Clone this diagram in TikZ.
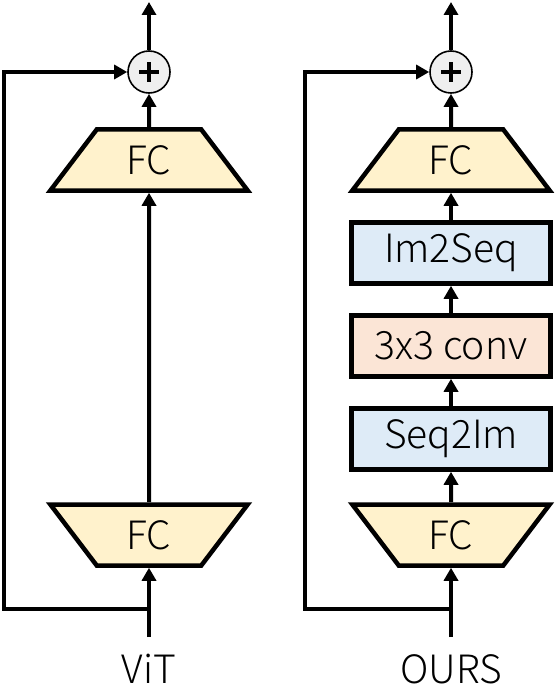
\documentclass[tikz,border=0pt]{standalone}
\usepackage{fontspec}
\setmainfont{Noto Sans CJK SC}[UprightFont=* Light]
\usetikzlibrary{arrows.meta,shapes.geometric}
\definecolor{fcfill}{HTML}{FFF2CC}
\definecolor{seqfill}{HTML}{DEEBF7}
\definecolor{convfill}{HTML}{FBE5D6}
\definecolor{addfill}{HTML}{EFEFEF}
\tikzset{
  arr/.style={line width=4pt, -{Triangle[length=13pt,width=14pt]}},
  skiparr/.style={line width=3.2pt, -{Triangle[length=13pt,width=14pt]}},
  fcbox/.style={trapezium, trapezium stretches, trapezium angle=56, draw, line width=4.5pt,
    fill=fcfill, minimum width=198pt, minimum height=61pt, inner sep=0pt},
  layerbox/.style={rectangle, draw, line width=4.5pt, minimum width=199pt, minimum height=61pt, inner sep=0pt},
  addnode/.style={circle, draw, line width=1.6pt, fill=addfill, minimum size=42pt, inner sep=0pt,
    path picture={\draw[line width=4.5pt]
      ([xshift=-10pt]path picture bounding box.center) -- ([xshift=10pt]path picture bounding box.center)
      ([yshift=-10pt]path picture bounding box.center) -- ([yshift=10pt]path picture bounding box.center);}}
}
\begin{document}
\begin{tikzpicture}[x=1pt, y=-1pt, every node/.style={font=\fontsize{39}{42}\selectfont}]
  \useasboundingbox (0,0) rectangle (554,687);

  % ViT
  \node[addnode] (addA) at (149,72) {};
  \node[fcbox] (fcA1) at (149,160) {FC};
  \node[fcbox, shape border rotate=180] (fcA0) at (149,535) {FC};
  \coordinate (outA) at (149,2);
  \coordinate (inA) at (149,637);
  \coordinate (jA) at (149,609);
  \coordinate (kA) at (4,609);
  \node (labA) at (149,669) {ViT};

  \draw[arr] (inA) -- (fcA0);
  \draw[arr] (fcA0) -- (fcA1);
  \draw[arr] (fcA1) -- (addA);
  \draw[arr] (addA) -- (outA);
  \draw[skiparr] (jA) -- (kA) |- (addA);

  % OURS
  \node[addnode] (addB) at (451,72) {};
  \node[fcbox] (fcB1) at (451,160) {FC};
  \node[layerbox, fill=seqfill] (imseq) at (451,253) {Im2Seq};
  \node[layerbox, fill=convfill] (conv) at (451,346) {3x3 conv};
  \node[layerbox, fill=seqfill] (seqim) at (451,439) {Seq2Im};
  \node[fcbox, shape border rotate=180] (fcB0) at (451,535) {FC};
  \coordinate (outB) at (451,2);
  \coordinate (inB) at (451,637);
  \coordinate (jB) at (451,609);
  \coordinate (kB) at (305,609);
  \node (labB) at (451,669) {OURS};

  \draw[arr] (inB) -- (fcB0);
  \draw[arr] (fcB0) -- (seqim);
  \draw[arr] (seqim) -- (conv);
  \draw[arr] (conv) -- (imseq);
  \draw[arr] (imseq) -- (fcB1);
  \draw[arr] (fcB1) -- (addB);
  \draw[arr] (addB) -- (outB);
  \draw[skiparr] (jB) -- (kB) |- (addB);
\end{tikzpicture}
\end{document}
